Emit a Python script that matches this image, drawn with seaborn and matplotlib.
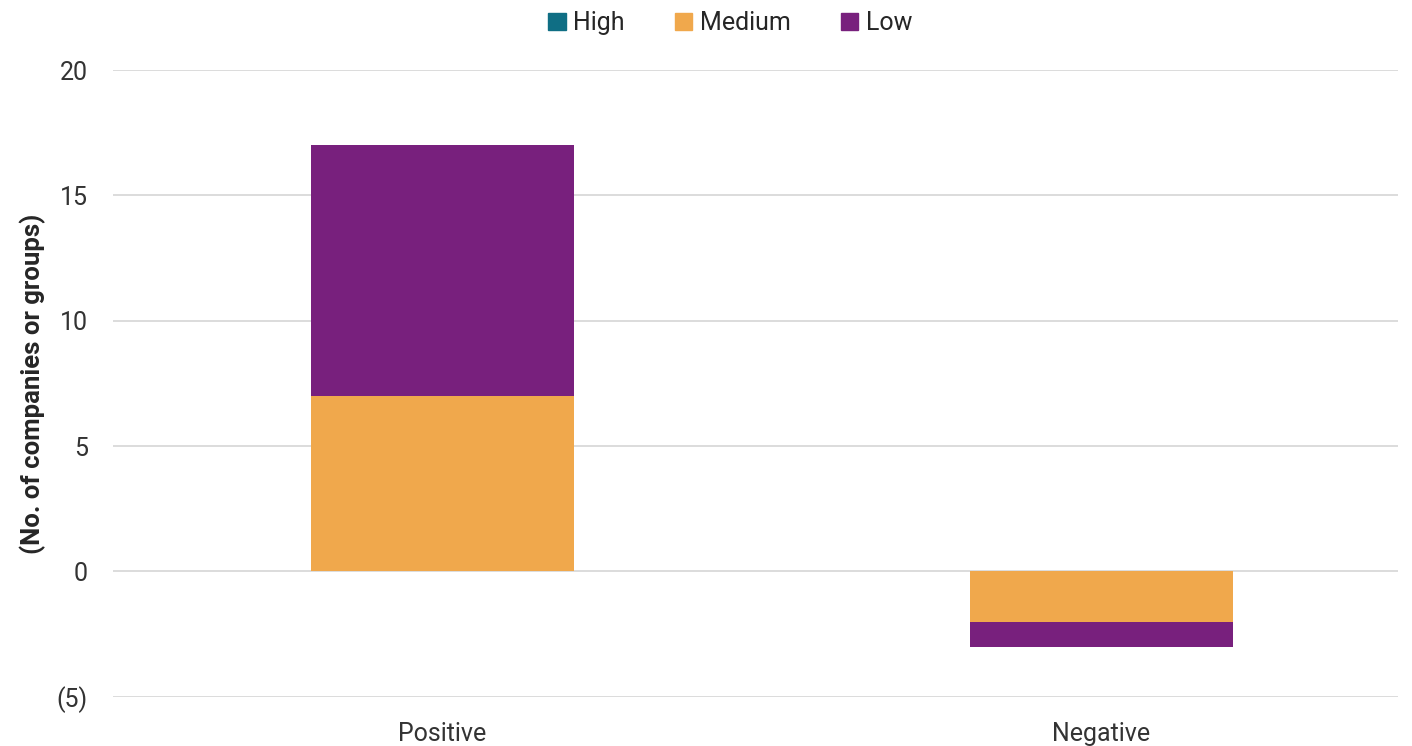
import seaborn as sns
import matplotlib.pyplot as plt
from matplotlib.patches import Patch

categories = ['Positive', 'Negative']
high = [0, 0]
medium = [7, -2]
low = [10, -1]

colors = {'High': '#0f6e84', 'Medium': '#f0a84c', 'Low': '#78207d'}

sns.set_style('white')
plt.rcParams['font.family'] = ['Roboto', 'DejaVu Sans']

fig = plt.figure(figsize=(14.12, 7.46), dpi=100)
ax = fig.add_axes([0.08, 0.066, 0.91, 0.84])

bar_kw = dict(width=0.4, ax=ax, saturation=1, linewidth=0)
sns.barplot(x=categories, y=high, color=colors['High'], **bar_kw)
sns.barplot(x=categories, y=medium, color=colors['Medium'], **bar_kw)
sns.barplot(x=categories, y=low, bottom=medium, color=colors['Low'], **bar_kw)

ax.set_ylim(-5, 20)
ax.set_xlim(-0.5, 1.45)
ax.set_yticks([-5, 0, 5, 10, 15, 20])
ax.set_yticklabels(['(5)', '0', '5', '10', '15', '20'])
ax.yaxis.grid(True, color='#d9d9d9', linewidth=1.3)
ax.set_axisbelow(True)
sns.despine(ax=ax, left=True, bottom=True)
ax.tick_params(axis='both', length=0, labelsize=18, colors='#333333')
ax.tick_params(axis='y', pad=18)
ax.tick_params(axis='x', pad=18)
ax.set_ylabel('(No. of companies or groups)', fontsize=18.5, fontweight='bold', labelpad=8)

handles = [Patch(color=colors[k]) for k in ['High', 'Medium', 'Low']]
fig.legend(handles, ['High', 'Medium', 'Low'], loc='upper center', bbox_to_anchor=(0.517, 1.015),
           ncol=3, frameon=False, fontsize=18, handlelength=0.7, handleheight=0.7,
           handletextpad=0.3, columnspacing=2.0)

fig.savefig('out.png', dpi=100)
